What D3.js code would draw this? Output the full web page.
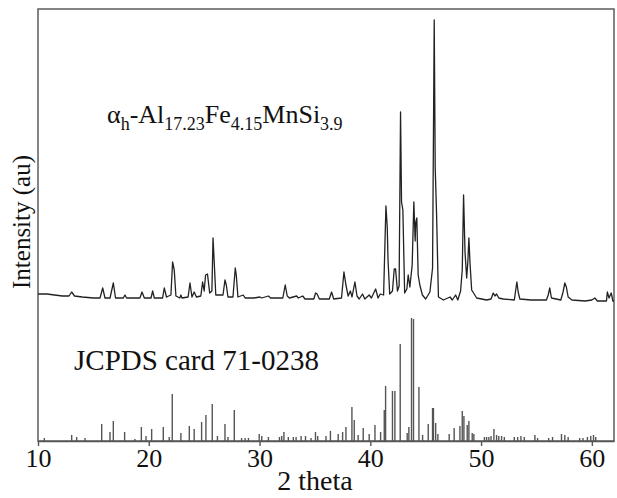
<!DOCTYPE html>
<html>
<head>
<meta charset="utf-8">
<script src="https://cdn.jsdelivr.net/npm/d3@7"></script>
<style>
  body { margin: 0; background: #fff; }
  text { font-family: "Liberation Serif", "DejaVu Serif", serif; fill: #111; }
</style>
</head>
<body>
<div id="chart"></div>
<script>
// x ticks (2 theta, degrees)
var xTicks = [10, 20, 30, 40, 50, 60];

// measured pattern: [2 theta, intensity (au)]
var patternTrace = [
  [10.0, 147], [10.8, 147], [11.5, 146], [12.2, 145], [12.8, 145], [13.04, 149], [13.3, 145],
  [14.0, 144], [15.0, 143], [15.6, 143], [15.84, 153], [16.05, 143], [16.5, 143], [16.8, 158],
  [17.0, 143], [17.7, 143], [17.85, 146], [18.0, 143], [19.2, 143], [19.39, 149], [19.6, 143],
  [20.2, 143], [20.35, 150], [20.5, 143], [21.25, 143], [21.4, 153], [21.6, 144], [22.0, 146],
  [22.15, 179], [22.3, 171], [22.45, 145], [22.8, 143], [22.9, 146], [23.0, 143], [23.55, 144],
  [23.72, 158], [23.9, 144], [24.1, 149], [24.3, 144], [24.7, 145], [24.86, 159], [25.0, 150],
  [25.13, 166], [25.3, 167], [25.5, 148], [25.7, 150], [25.8, 203], [25.9, 181], [26.05, 146],
  [26.4, 146], [26.7, 146], [26.88, 161], [27.0, 156], [27.15, 144], [27.6, 144], [27.81, 173],
  [27.9, 166], [28.05, 144], [28.53, 146], [28.7, 143], [29.5, 143], [30.03, 144], [30.2, 143],
  [30.8, 145], [31.0, 143], [32.1, 143], [32.32, 156], [32.5, 145], [32.7, 143], [33.35, 145],
  [33.5, 143], [33.9, 145], [34.1, 142], [34.9, 142], [35.06, 148], [35.2, 147], [35.4, 142],
  [36.3, 142], [36.5, 149], [36.7, 142], [37.4, 143], [37.62, 169], [37.8, 156], [38.0, 145],
  [38.2, 150], [38.35, 144], [38.61, 159], [38.8, 145], [39.0, 142], [39.3, 147], [39.5, 142],
  [39.9, 146], [40.1, 143], [40.48, 152], [40.7, 143], [40.9, 147], [41.2, 146], [41.41, 235],
  [41.53, 214], [41.6, 181], [41.75, 147], [42.0, 150], [42.16, 172], [42.28, 172], [42.45, 150],
  [42.6, 155], [42.73, 329], [42.82, 239], [42.94, 231], [43.1, 148], [43.3, 152], [43.42, 166],
  [43.57, 154], [43.78, 176], [43.93, 239], [44.05, 200], [44.1, 218], [44.2, 223], [44.32, 166],
  [44.47, 156], [44.7, 146], [45.0, 142], [45.38, 149], [45.62, 173], [45.77, 421], [45.86, 273],
  [45.98, 228], [46.15, 144], [46.6, 141], [47.2, 144], [47.4, 141], [47.7, 146], [47.9, 141],
  [48.15, 150], [48.3, 171], [48.42, 246], [48.55, 189], [48.7, 163], [48.8, 178], [48.9, 203],
  [49.0, 178], [49.15, 151], [49.6, 143], [50.5, 141], [50.9, 142], [51.1, 148], [51.25, 145],
  [51.4, 147], [51.6, 143], [52.0, 142], [53.0, 141], [53.23, 159], [53.35, 149], [53.5, 142],
  [54.5, 141], [55.9, 141], [56.06, 146], [56.2, 153], [56.35, 143], [57.2, 141], [57.4, 149],
  [57.56, 158], [57.7, 154], [57.86, 144], [58.2, 141], [59.4, 140], [60.0, 141], [60.27, 143],
  [60.5, 140], [61.2, 140], [61.32, 140], [61.4, 149], [61.55, 143], [61.75, 148], [61.9, 140],
  [62.0, 140]
];

// JCPDS 71-0238 reference lines
var cardAngles = [
  10.57, 13.04, 13.49, 14.24, 15.75, 16.5, 16.8, 17.82, 18.75, 19.33, 19.75, 20.26, 21.31, 21.85,
  22.12, 22.9, 23.66, 24.1, 24.77, 25.16, 25.73, 26.2, 26.88, 27.15, 27.72, 28.38, 28.7, 29.0,
  29.97, 30.2, 30.8, 31.8, 32.0, 32.2, 32.6, 33.05, 33.3, 33.75, 34.15, 34.65, 35.05, 35.25,
  36.0, 36.4, 37.1, 37.5, 37.8, 38.34, 38.55, 38.9, 39.36, 39.9, 40.42, 40.93, 41.26, 41.38,
  42.0, 42.22, 42.7, 43.33, 43.48, 43.72, 43.9, 44.39, 44.72, 45.23, 45.62, 45.7, 45.9, 46.1,
  47.12, 47.57, 48.09, 48.3, 48.45, 48.75, 48.9, 49.2, 49.35, 50.3, 50.5, 50.7, 50.9, 51.16,
  51.4, 51.6, 51.85, 52.1, 53.0, 53.3, 53.6, 53.9, 54.86, 55.1, 56.1, 56.45, 57.26, 57.56,
  57.86, 58.9, 59.2, 59.6, 59.9, 60.15, 60.35
];
var cardIntensities = [
  3, 6, 4, 3, 17, 9, 20, 9, 2, 14, 5, 12, 14, 4,
  47, 8, 15, 12, 19, 26, 37, 5, 17, 4, 31, 3, 3, 3,
  7, 5, 4, 4, 5, 9, 4, 4, 4, 5, 5, 3, 9, 5,
  5, 10, 7, 9, 14, 34, 21, 6, 13, 7, 16, 9, 31, 55,
  50, 50, 97, 8, 14, 123, 122, 54, 6, 17, 33, 33, 18, 7,
  7, 13, 15, 30, 25, 16, 20, 8, 7, 4, 4, 4, 5, 12,
  6, 5, 5, 4, 4, 4, 5, 4, 6, 3, 3, 4, 7, 6,
  4, 3, 3, 4, 5, 6, 4
];

var width = 617, height = 498;
var margins = { top: 9, left: 38, right: 3, bottom: 57 };

var svg = d3.select('#chart')
            .append('svg')
            .attr('width', width)
            .attr('height', height);

var xScale = d3.scaleLinear()
               .domain([10, 62])
               .range([margins.left, width - margins.right]);

var yScale = d3.scaleLinear()
               .domain([0, 432])
               .range([height - margins.bottom, margins.top]);

// frame
svg.append('rect')
   .attr('x', xScale(10))
   .attr('y', yScale(432))
   .attr('width', xScale(62) - xScale(10))
   .attr('height', yScale(0) - yScale(432))
   .attr('fill', 'none')
   .attr('stroke', '#666')
   .attr('stroke-width', 1.6);

// reference sticks
svg.append('g')
   .selectAll('line')
   .data(cardAngles)
   .enter()
   .append('line')
   .attr('x1', function(d) { return xScale(d); })
   .attr('x2', function(d) { return xScale(d); })
   .attr('y1', yScale(0))
   .attr('y2', function(d, i) { return yScale(cardIntensities[i]); })
   .attr('stroke', '#555')
   .attr('stroke-width', 1.4);

// measured pattern
var line = d3.line()
             .x(function(d) { return xScale(d[0]); })
             .y(function(d) { return yScale(d[1]); });

svg.append('path')
   .datum(patternTrace)
   .attr('d', line)
   .attr('fill', 'none')
   .attr('stroke', '#222')
   .attr('stroke-width', 1.3)
   .attr('stroke-linejoin', 'round');

// x axis
var xAxis = d3.axisBottom(xScale).tickValues(xTicks).tickSize(5).tickSizeOuter(0).tickPadding(3);

var gx = svg.append('g')
   .attr('transform', 'translate(0,' + yScale(0) + ')')
   .call(xAxis);
gx.select('.domain').attr('stroke', '#555').attr('stroke-width', 1.6);
gx.selectAll('.tick line').attr('stroke', '#555').attr('stroke-width', 1.4);
gx.selectAll('.tick text')
  .attr('fill', '#111')
  .style('font-family', '"Liberation Serif", "DejaVu Serif", serif')
  .style('font-size', '26px');

// axis titles
svg.append('text')
   .attr('x', 315)
   .attr('y', 490)
   .attr('text-anchor', 'middle')
   .style('font-size', '28px')
   .text('2 theta');

svg.append('text')
   .attr('transform', 'translate(30,222) rotate(-90)')
   .attr('text-anchor', 'middle')
   .style('font-size', '25px')
   .text('Intensity (au)');

// labels
var title = svg.append('text')
   .attr('x', 107)
   .attr('y', 123)
   .style('font-size', '26px');
title.append('tspan').text('\u03b1');
title.append('tspan').attr('dy', 7).style('font-size', '18px').text('h');
title.append('tspan').attr('dy', -7).text('-Al');
title.append('tspan').attr('dy', 7).style('font-size', '18px').text('17.23');
title.append('tspan').attr('dy', -7).text('Fe');
title.append('tspan').attr('dy', 7).style('font-size', '18px').text('4.15');
title.append('tspan').attr('dy', -7).text('MnSi');
title.append('tspan').attr('dy', 7).style('font-size', '18px').text('3.9');

svg.append('text')
   .attr('x', 74)
   .attr('y', 370)
   .style('font-size', '29px')
   .text('JCPDS card 71-0238');
</script>
</body>
</html>
